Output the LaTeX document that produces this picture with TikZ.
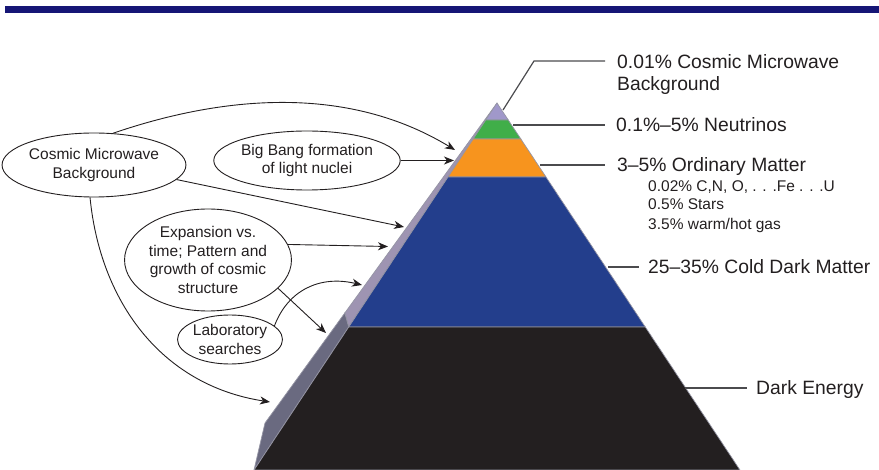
\documentclass[tikz,border=0pt]{standalone}
\usepackage{fontspec}
\setmainfont{Liberation Sans}
\usetikzlibrary{shapes.geometric}
\usetikzlibrary{positioning}
\usetikzlibrary{arrows.meta,calc}

\definecolor{barblue}{RGB}{22,22,118}
\definecolor{inkcol}{RGB}{35,31,32}
\definecolor{leadcol}{RGB}{75,75,78}
\definecolor{sepcol}{RGB}{150,150,165}
\definecolor{tipcol}{RGB}{160,152,202}
\definecolor{neucol}{RGB}{64,174,73}
\definecolor{ordcol}{RGB}{247,148,30}
\definecolor{cdmcol}{RGB}{35,62,140}
\definecolor{decol}{RGB}{35,31,32}
\definecolor{sidelav}{RGB}{158,148,178}
\definecolor{sidegrey}{RGB}{106,106,128}

\tikzset{
  bubble/.style={ellipse, draw=inkcol, line width=0.9pt, inner sep=0pt, align=center,
    text=inkcol, font=\fontsize{15.5}{18.5}\selectfont},
  biglab/.style={text=inkcol, inner sep=0pt, align=left, font=\fontsize{19.3}{22}\selectfont},
  lab/.style={biglab, anchor=west, text height=13.8pt, text depth=0pt},
  sublab/.style={anchor=west, text=inkcol, inner sep=0pt, text height=11pt, text depth=0pt,
    font=\fontsize{15.5}{18}\selectfont},
  link/.style={draw=inkcol, line width=0.9pt, -{Stealth[length=10pt,width=8pt,inset=3pt]}},
  leader/.style={draw=leadcol, line width=1.2pt},
  band/.style={draw=sepcol, line width=0.7pt},
}

\begin{document}
\begin{tikzpicture}[x=1pt, y=-1pt]
 \useasboundingbox (0,0) rectangle (879,470);

 %bar
 \fill[barblue] (5,6) rectangle (879,13);

 %side face
 \def\ax{497}
 \def\ay{103}
 \filldraw[band, fill=sidelav] (\ax,\ay) -- (344.8,313) -- (348.7,327) -- cycle;
 \filldraw[band, fill=sidegrey] (344.8,313) -- (265,423) -- (254,470) -- (348.7,327) -- cycle;

 %front face
 \foreach \ya/\yb/\col in {103/120/tipcol, 120/139/neucol, 139/177/ordcol, 177/327/cdmcol, 327/470/decol} {
   \filldraw[band, fill=\col] ({\ax-0.662*(\ya-\ay)},\ya) -- ({\ax+0.662*(\ya-\ay)},\ya)
     -- ({\ax+0.662*(\yb-\ay)},\yb) -- ({\ax-0.662*(\yb-\ay)},\yb) -- cycle;
 }

 %labels
 \node[biglab, anchor=north west] (lCMB) at (617,54) {0.01\% Cosmic Microwave\\Background};
 \node[lab] (lNeu) at (616,125) {0.1\%--5\% Neutrinos};
 \node[lab] (lOrd) at (617,165) {3--5\% Ordinary Matter};
 \foreach \y/\name/\txt in {186/sA/{0.02\% C,N, O, . . .Fe . . .U}, 204/sB/{0.5\% Stars}, 224/sC/{3.5\% warm/hot gas}} {
   \node[sublab] (\name) at (648,\y) {\txt};
 }
 \node[lab] (lCold) at (648,267) {25--35\% Cold Dark Matter};
 \node[lab] (lDE) at (756,388) {Dark Energy};

 \coordinate (pCMB) at (503,110);
 \coordinate (pNeu) at (513,125);
 \coordinate (pOrd) at (540,165);
 \coordinate (pCold) at (608,267);
 \coordinate (pDE) at (685,388);

 \draw[leader] (pCMB) -- (534,61) -- ([xshift=-12pt]lCMB.west |- 0,61);
 \draw[leader] (pNeu) -- ([xshift=-11pt]lNeu.west);
 \draw[leader] (pOrd) -- ([xshift=-12pt]lOrd.west);
 \draw[leader] (pCold) -- ([xshift=-9pt]lCold.west);
 \draw[leader] (pDE) -- ([xshift=-9pt]lDE.west);

 %probes
 \node[bubble, minimum width=164pt, minimum height=64pt] (cmb) at (94,165) {Cosmic Microwave\\Background};
 \node[bubble, minimum width=182pt, minimum height=59pt] (bbn) at (307,160.5) {Big Bang formation\\of light nuclei};
 \node[bubble, minimum width=142pt, minimum height=102pt] (expan) at (208,260) {Expansion vs.\\time; Pattern and\\growth of cosmic\\structure};
 \node[bubble, minimum width=105pt, minimum height=49pt] (labsearch) at (230,339.5) {Laboratory\\searches};

 %arrow
 \coordinate (tCMBa) at (455,150);
 \coordinate (tBBN) at (454,160.5);
 \coordinate (tCMBb) at (404,227);
 \coordinate (tExpA) at (388,246.5);
 \coordinate (tExpB) at (326,333);
 \coordinate (tLab) at (362,285);
 \coordinate (tCMBc) at (270,402);

 \draw[link] (cmb.59) .. controls (210,100) and (340,80) .. (tCMBa);
 \draw[link] (bbn.east) -- (tBBN);
 \draw[link] (cmb.-10) -- (tCMBb);
 \draw[link] (expan.11) -- (tExpA);
 \draw[link] (expan.-22) -- (tExpB);
 \draw[link] (labsearch.17) .. controls (288,290) and (320,275) .. (tLab);
 \draw[link] (cmb.-97) .. controls (100,300) and (160,385) .. (tCMBc);
\end{tikzpicture}
\end{document}
